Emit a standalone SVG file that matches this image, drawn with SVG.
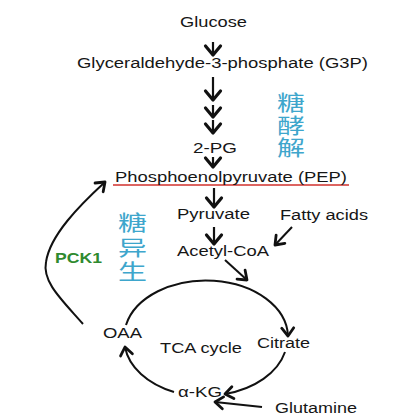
<svg xmlns="http://www.w3.org/2000/svg" width="420" height="420" viewBox="0 0 420 420">
<style>
.t{font-family:"Liberation Sans",Arial,sans-serif;font-size:14px;fill:#161616}
.zh{font-family:"Noto Sans CJK SC",sans-serif;font-size:21px;fill:#3ea6cc;writing-mode:vertical-rl}
.pck{font-family:"Liberation Sans",Arial,sans-serif;font-size:14px;font-weight:bold;fill:#2f8a2f}
.ln{fill:none;stroke:#111;stroke-width:2;marker-end:url(#ah)}
.big{fill:none;stroke:#111;stroke-width:2.2;marker-end:url(#ahb)}
</style>
<defs>
<marker id="ah" markerUnits="userSpaceOnUse" viewBox="-12 -10 14 20" markerWidth="14" markerHeight="20" refX="0" refY="0" orient="auto" overflow="visible">
<path d="M-8,-6 L0,0 L-8,6" fill="none" stroke="#111" stroke-width="2.8" stroke-linecap="round" stroke-linejoin="round"/>
</marker>
<marker id="ahb" markerUnits="userSpaceOnUse" viewBox="-12 -10 14 20" markerWidth="14" markerHeight="20" refX="0" refY="0" orient="auto" overflow="visible">
<path d="M-9,-7.5 L0,0 L-9,7.5" fill="none" stroke="#111" stroke-width="3.2" stroke-linecap="round" stroke-linejoin="round"/>
</marker>
</defs>
<rect width="420" height="420" fill="#fff"/>
<g id="connectors">
<path class="big" d="M213,42 L213,55"/>
<path class="big" d="M213,77 L213,100"/>
<path class="big" d="M213,105 L213,117"/>
<path class="big" d="M213,120 L213,133"/>
<path class="big" d="M213,157 L213,167"/>
<path class="big" d="M214,188 L214,207"/>
<path class="big" d="M214,227 L214,244"/>
<path class="ln" d="M292,227 L275,245"/>
<path class="ln" d="M225,260 L247,280"/>
<path class="ln" d="M126,325 A82,57 0 0 1 288,336"/>
<path class="ln" d="M285,352 A82,57 0 0 1 225,394"/>
<path class="ln" d="M174,392 A82,57 0 0 1 125,347"/>
<path class="ln" d="M262,407 L215,402"/>
<path class="ln" d="M83,324 C62,300 42,282 46,262 C50,235 80,205 105,182"/>
<line x1="113" y1="185" x2="349" y2="185" stroke="#d0312d" stroke-width="1.6"/>
</g>
<g id="glucose"><text class="t" x="180" y="27" textLength="67" lengthAdjust="spacingAndGlyphs">Glucose</text></g>
<g id="g3p"><text class="t" x="77" y="68" textLength="291" lengthAdjust="spacingAndGlyphs">Glyceraldehyde-3-phosphate (G3P)</text></g>
<g id="pg2"><text class="t" x="193" y="153" textLength="44" lengthAdjust="spacingAndGlyphs">2-PG</text></g>
<g id="pep"><text class="t" x="115" y="182" textLength="232" lengthAdjust="spacingAndGlyphs">Phosphoenolpyruvate (PEP)</text></g>
<g id="pyruvate"><text class="t" x="177" y="219" textLength="73" lengthAdjust="spacingAndGlyphs">Pyruvate</text></g>
<g id="fatty"><text class="t" x="280" y="220" textLength="88" lengthAdjust="spacingAndGlyphs">Fatty acids</text></g>
<g id="acetyl"><text class="t" x="177" y="256" textLength="92" lengthAdjust="spacingAndGlyphs">Acetyl-CoA</text></g>
<g id="oaa"><text class="t" x="103" y="338" textLength="39" lengthAdjust="spacingAndGlyphs">OAA</text></g>
<g id="tca"><text class="t" x="160" y="353" textLength="82" lengthAdjust="spacingAndGlyphs">TCA cycle</text></g>
<g id="citrate"><text class="t" x="257" y="348" textLength="53" lengthAdjust="spacingAndGlyphs">Citrate</text></g>
<g id="akg"><text class="t" x="178" y="397" textLength="44" lengthAdjust="spacingAndGlyphs">α-KG</text></g>
<g id="glutamine"><text class="t" x="275" y="413" textLength="82" lengthAdjust="spacingAndGlyphs">Glutamine</text></g>
<g id="pck1"><text class="pck" x="55" y="263" textLength="47" lengthAdjust="spacingAndGlyphs">PCK1</text></g>
<g id="glycolysis-label">
<text class="zh" transform="translate(291,92) scale(1.33,1)" x="0" y="0" letter-spacing="1.5">糖酵解</text>
</g>
<g id="gluconeogenesis-label">
<text class="zh" transform="translate(132.5,212) scale(1.38,1)" x="0" y="0" letter-spacing="3.5">糖异生</text>
</g>
</svg>
